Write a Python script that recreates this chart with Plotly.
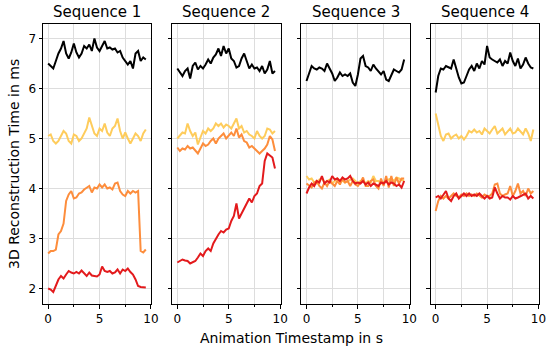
import plotly.graph_objects as go

t = [0.0, 0.25, 0.5, 0.75, 1.0, 1.25, 1.5, 1.75, 2.0, 2.25, 2.5, 2.75, 3.0, 3.25, 3.5, 3.75,
     4.0, 4.25, 4.5, 4.75, 5.0, 5.25, 5.5, 5.75, 6.0, 6.25, 6.5, 6.75, 7.0, 7.25, 7.5, 7.75,
     8.0, 8.25, 8.5, 8.75, 9.0, 9.25, 9.5]

sequences = ["Sequence 1", "Sequence 2", "Sequence 3", "Sequence 4"]

s1_black = [6.50, 6.45, 6.40, 6.55, 6.70, 6.80, 6.95, 6.70, 6.60, 6.72, 6.90, 6.72, 6.62, 6.70, 6.85, 6.80,
            6.88, 6.75, 7.00, 6.82, 6.75, 6.85, 6.95, 6.80, 6.82, 6.78, 6.80, 6.72, 6.75, 6.62, 6.55, 6.48,
            6.55, 6.40, 6.70, 6.75, 6.55, 6.62, 6.58]
s1_yellow = [5.05, 5.08, 4.95, 4.90, 4.95, 5.05, 5.15, 5.10, 4.95, 4.90, 5.08, 5.05, 4.95, 5.00, 5.10, 5.20,
             5.42, 5.25, 5.10, 5.05, 5.20, 5.15, 5.30, 5.12, 5.05, 5.20, 5.25, 5.40, 5.15, 5.00, 5.12, 5.00,
             4.90, 5.00, 5.10, 5.05, 4.95, 5.10, 5.18]
s1_orange = [2.70, 2.75, 2.75, 2.78, 3.08, 3.15, 3.30, 3.75, 3.88, 3.95, 3.80, 3.82, 3.90, 3.92, 3.98, 4.02,
             4.05, 3.92, 4.02, 4.00, 4.08, 4.02, 4.08, 4.00, 4.02, 3.98, 4.10, 4.12, 3.95, 3.88, 3.85, 3.95,
             3.90, 3.95, 3.92, 3.95, 2.75, 2.72, 2.78]
s1_red = [2.00, 1.98, 1.93, 2.05, 2.18, 2.25, 2.20, 2.28, 2.35, 2.32, 2.30, 2.33, 2.30, 2.36, 2.30, 2.25,
          2.32, 2.26, 2.25, 2.24, 2.28, 2.44, 2.35, 2.33, 2.35, 2.30, 2.32, 2.38, 2.30, 2.38, 2.35, 2.40,
          2.33, 2.28, 2.18, 2.05, 2.03, 2.03, 2.02]

s2_black = [6.40, 6.32, 6.25, 6.35, 6.40, 6.20, 6.45, 6.52, 6.38, 6.45, 6.40, 6.48, 6.58, 6.50, 6.62, 6.68,
            6.80, 6.65, 6.85, 6.70, 6.80, 6.60, 6.55, 6.42, 6.45, 6.60, 6.70, 6.55, 6.40, 6.48, 6.40, 6.42,
            6.35, 6.45, 6.30, 6.38, 6.55, 6.30, 6.35]
s2_yellow = [5.00, 5.05, 5.12, 5.10, 5.30, 5.15, 5.05, 5.12, 4.88, 5.02, 5.15, 5.10, 5.20, 5.15, 5.20, 5.30,
             5.25, 5.30, 5.22, 5.28, 5.25, 5.20, 5.30, 5.40, 5.20, 5.25, 5.12, 5.15, 5.08, 5.05, 5.00, 5.15,
             5.05, 5.00, 5.05, 5.20, 5.18, 5.10, 5.15]
s2_orange = [4.82, 4.75, 4.80, 4.78, 4.85, 4.80, 4.82, 4.75, 4.70, 4.80, 4.90, 4.85, 4.88, 4.95, 5.00, 4.90,
             5.00, 5.05, 5.10, 5.00, 5.05, 5.12, 5.05, 5.20, 5.02, 5.08, 4.95, 4.92, 4.82, 4.85, 4.80, 4.75,
             4.70, 4.75, 4.80, 4.88, 5.05, 4.98, 4.75]
s2_red = [2.52, 2.55, 2.58, 2.56, 2.55, 2.50, 2.53, 2.55, 2.62, 2.70, 2.65, 2.75, 2.80, 2.75, 2.90, 3.00,
          3.08, 3.15, 3.12, 3.18, 3.20, 3.35, 3.45, 3.70, 3.40, 3.50, 3.60, 3.72, 3.80, 3.72, 3.85, 3.90,
          4.05, 4.10, 4.55, 4.70, 4.65, 4.62, 4.40]

s3_black = [6.15, 6.30, 6.45, 6.40, 6.38, 6.42, 6.40, 6.35, 6.50, 6.40, 6.30, 6.15, 6.22, 6.32, 6.25, 6.28,
            6.25, 6.30, 6.12, 6.05, 6.28, 6.60, 6.65, 6.45, 6.42, 6.35, 6.48, 6.40, 6.35, 6.28, 6.35, 6.18,
            6.15, 6.28, 6.38, 6.35, 6.32, 6.38, 6.58]
s3_yellow = [4.25, 4.18, 4.20, 4.12, 4.10, 4.18, 4.20, 4.12, 4.15, 4.18, 4.10, 4.15, 4.20, 4.15, 4.15, 4.12,
             4.15, 4.18, 4.20, 4.15, 4.10, 4.15, 4.15, 4.10, 4.15, 4.12, 4.25, 4.15, 4.15, 4.10, 4.12, 4.15,
             4.18, 4.20, 4.15, 4.22, 4.20, 4.18, 4.15]
s3_orange = [4.10, 4.05, 4.02, 4.12, 4.15, 4.05, 4.00, 4.12, 4.05, 4.15, 4.10, 4.05, 4.15, 4.08, 4.20, 4.12,
             4.15, 4.05, 4.15, 4.08, 4.05, 4.12, 4.22, 4.05, 4.05, 4.15, 4.18, 4.05, 4.00, 4.20, 4.05, 4.25,
             4.02, 4.25, 4.05, 4.22, 4.10, 4.20, 4.20]
s3_red = [3.90, 4.02, 4.10, 4.05, 4.15, 4.12, 4.25, 4.10, 4.15, 4.12, 4.25, 4.18, 4.20, 4.15, 4.22, 4.18,
          4.20, 4.25, 4.15, 4.10, 4.12, 4.10, 4.15, 4.08, 4.12, 4.05, 4.10, 4.08, 4.05, 4.12, 4.10, 4.15,
          4.08, 4.12, 4.10, 4.05, 4.08, 4.02, 4.15]

s4_black = [5.92, 6.25, 6.40, 6.38, 6.45, 6.42, 6.40, 6.58, 6.40, 6.22, 6.10, 6.12, 6.25, 6.38, 6.45, 6.35,
            6.50, 6.40, 6.55, 6.48, 6.85, 6.62, 6.58, 6.55, 6.52, 6.58, 6.45, 6.55, 6.50, 6.72, 6.55, 6.45,
            6.60, 6.40, 6.48, 6.62, 6.50, 6.42, 6.40]
s4_yellow = [5.50, 5.30, 5.05, 4.95, 5.08, 5.10, 5.00, 5.05, 5.08, 5.00, 5.05, 4.98, 5.05, 5.15, 5.12, 5.18,
             5.12, 5.15, 5.08, 5.20, 5.15, 5.10, 5.18, 5.25, 5.10, 5.15, 5.20, 5.08, 5.15, 5.20, 5.10, 5.12,
             5.20, 5.15, 5.08, 5.20, 5.10, 4.95, 5.18]
s4_orange = [3.55, 3.75, 3.85, 3.80, 3.85, 3.80, 3.85, 3.90, 3.85, 3.82, 3.88, 3.85, 3.90, 3.85, 3.88, 3.85,
             3.90, 3.85, 3.82, 3.88, 3.85, 3.85, 3.90, 4.08, 4.10, 3.90, 3.85, 3.88, 3.90, 4.05, 3.85, 3.95,
             4.10, 3.90, 3.95, 3.85, 4.00, 3.90, 3.95]
s4_red = [3.82, 3.85, 3.80, 3.88, 3.95, 3.80, 3.75, 3.85, 3.90, 3.80, 3.85, 3.90, 3.85, 3.90, 3.85, 3.88,
          3.85, 3.90, 3.85, 3.80, 3.85, 3.80, 3.82, 4.02, 3.90, 3.80, 3.85, 3.82, 3.82, 3.78, 3.85, 3.80,
          3.82, 3.85, 3.88, 3.90, 3.80, 3.85, 3.80]

panels = [
    [s1_black, s1_yellow, s1_orange, s1_red],
    [s2_black, s2_yellow, s2_orange, s2_red],
    [s3_black, s3_yellow, s3_orange, s3_red],
    [s4_black, s4_yellow, s4_orange, s4_red],
]
colors = ["#000000", "#fecc5c", "#fd8d3c", "#e31a1c"]

W, H = 553, 349
ml, mr, mt, mb = 43, 7, 24, 45
plot_w = W - ml - mr
lefts = [43, 174, 305, 436]
pw = 110
domains = [[(l - ml) / plot_w, min(1.0, (l + pw - ml) / plot_w)] for l in lefts]

fig = go.Figure()
font = "DejaVu Sans"
grid = "#dddddd"

for i, series in enumerate(panels):
    xa = "x" if i == 0 else f"x{i+1}"
    ya = "y" if i == 0 else f"y{i+1}"
    for s, c in zip(series, colors):
        fig.add_trace(go.Scatter(x=t, y=s, mode="lines", line=dict(color=c, width=2),
                                 xaxis=xa, yaxis=ya, showlegend=False, hoverinfo="skip"))
    xkey = "xaxis" if i == 0 else f"xaxis{i+1}"
    ykey = "yaxis" if i == 0 else f"yaxis{i+1}"
    fig.layout[xkey] = dict(
        domain=domains[i], anchor=ya, range=[-0.5, 10.05],
        tickvals=[0, 5, 10], ticks="outside", ticklen=3.5, tickwidth=1, tickcolor="black",
        showline=True, linecolor="black", linewidth=1, mirror=True,
        showgrid=True, gridcolor=grid, gridwidth=1, zeroline=False,
        minor=dict(dtick=2.5, tick0=0, ticks="outside", ticklen=2, tickcolor="black",
                   showgrid=True, gridcolor=grid, gridwidth=1),
        tickfont=dict(family=font, size=12, color="black"),
    )
    fig.layout[ykey] = dict(
        domain=[0, 1], anchor=xa, range=[1.69, 7.29],
        tickvals=[2, 3, 4, 5, 6, 7], ticks="outside", ticklen=3.5, tickwidth=1, tickcolor="black",
        showticklabels=(i == 0),
        showline=True, linecolor="black", linewidth=1, mirror=True,
        showgrid=True, gridcolor=grid, gridwidth=1, zeroline=False,
        tickfont=dict(family=font, size=12, color="black"),
    )
    fig.add_annotation(text=sequences[i], xref="paper", yref="paper",
                       x=(domains[i][0] + domains[i][1]) / 2, xanchor="center",
                       y=1, yanchor="bottom", yshift=1,
                       showarrow=False, font=dict(family=font, size=15, color="black"))

fig.add_annotation(text="Animation Timestamp in s", xref="paper", yref="paper",
                   x=(domains[1][1] + domains[2][0]) / 2, xanchor="center",
                   y=0, yanchor="middle", yshift=-34,
                   showarrow=False, font=dict(family=font, size=14, color="black"))
fig.add_annotation(text="3D Reconstruction Time in ms", xref="paper", yref="paper",
                   x=0, xanchor="center", xshift=-29, y=0.5, yanchor="middle", textangle=-90,
                   showarrow=False, font=dict(family=font, size=14, color="black"))

fig.update_layout(width=W, height=H, margin=dict(l=ml, r=mr, t=mt, b=mb),
                  paper_bgcolor="white", plot_bgcolor="white", hovermode=False)
fig.write_html("out.html", config={"displayModeBar": False},
               post_script="document.body.style.margin='0';document.body.style.padding='0';")
